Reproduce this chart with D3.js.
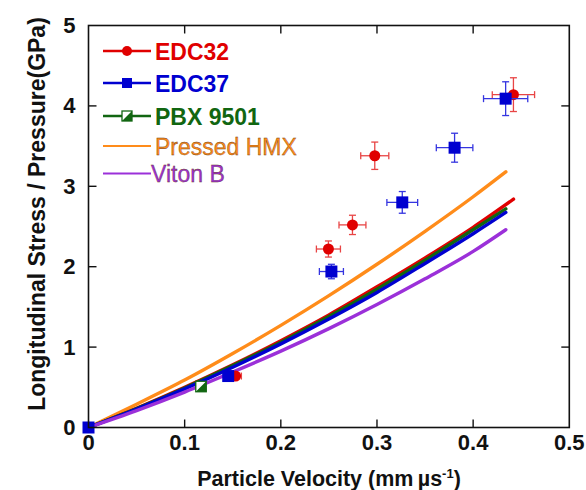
<!DOCTYPE html>
<html>
<head>
<meta charset="utf-8">
<script src="https://cdn.jsdelivr.net/npm/d3@7"></script>
<style>
body { margin: 0; background: #fff; }
svg text { font-family: "Liberation Sans", Arial, sans-serif; }
</style>
</head>
<body>
<div id="chart"></div>
<script>
const W = 586, H = 490;
const margin = {left: 88.5, right: 16.7, top: 25.5, bottom: 62.5};

// Hugoniot curves: [particle velocity, pressure]
var pressedHMX = [[0,0],[0.05,0.29],[0.1,0.59],[0.15,0.92],[0.2,1.27],[0.25,1.64],[0.3,2.03],[0.35,2.44],[0.4,2.87],[0.434,3.18]]
var edc32Curve = [[0,0],[0.05,0.24],[0.1,0.50],[0.15,0.78],[0.2,1.08],[0.25,1.40],[0.3,1.75],[0.35,2.11],[0.4,2.49],[0.442,2.84]]
var pbxCurve   = [[0,0],[0.05,0.235],[0.1,0.49],[0.15,0.77],[0.2,1.06],[0.25,1.38],[0.3,1.72],[0.35,2.08],[0.4,2.46],[0.434,2.72]]
var edc37Curve = [[0,0],[0.05,0.23],[0.1,0.48],[0.15,0.75],[0.2,1.04],[0.25,1.35],[0.3,1.68],[0.35,2.04],[0.4,2.41],[0.434,2.675]]
var vitonB     = [[0,0],[0.05,0.21],[0.1,0.44],[0.15,0.69],[0.2,0.95],[0.25,1.23],[0.3,1.53],[0.35,1.85],[0.4,2.19],[0.434,2.46]]

// experimental points: u, p, error in u, error in p
var edc32Pts = [
    {u: 0, p: 0, du: 0, dp: 0},
    {u: 0.153, p: 0.64, du: 0.006, dp: 0.03},
    {u: 0.2495, p: 2.22, du: 0.0125, dp: 0.10},
    {u: 0.2745, p: 2.52, du: 0.014, dp: 0.12},
    {u: 0.2977, p: 3.38, du: 0.0146, dp: 0.17},
    {u: 0.4419, p: 4.14, du: 0.022, dp: 0.21}
]
var edc37Pts = [
    {u: 0, p: 0, du: 0, dp: 0},
    {u: 0.1453, p: 0.64, du: 0, dp: 0},
    {u: 0.2526, p: 1.94, du: 0.0125, dp: 0.09},
    {u: 0.3263, p: 2.80, du: 0.016, dp: 0.135},
    {u: 0.3807, p: 3.48, du: 0.019, dp: 0.18},
    {u: 0.4338, p: 4.09, du: 0.023, dp: 0.21}
]
var pbxPts = [{u: 0.117, p: 0.51}]

var xTicks = [0, 0.1, 0.2, 0.3, 0.4, 0.5]
var yTicks = [0, 1, 2, 3, 4, 5]

var legendNames = ["EDC32", "EDC37", "PBX 9501", "Pressed HMX", "Viton B"]

const colRed = "#e00000", colBlue = "#0000d0", colGreen = "#116611",
      colOrange = "#ff8c1a", colPurple = "#9b30d9";

var svg = d3.select("#chart").append("svg")
    .attr("width", W).attr("height", H);

var x = d3.scaleLinear().domain([0, 0.5]).range([margin.left, W - margin.right]);
var y = d3.scaleLinear().domain([0, 5]).range([H - margin.bottom, margin.top]);

// curves
var line = d3.line().x(d => x(d[0])).y(d => y(d[1])).curve(d3.curveMonotoneX);
[[pressedHMX, colOrange], [edc32Curve, colRed], [pbxCurve, colGreen], [edc37Curve, colBlue], [vitonB, colPurple]]
    .forEach(c => {
        svg.append("path").datum(c[0])
            .attr("d", line)
            .attr("fill", "none")
            .attr("stroke", c[1])
            .attr("stroke-width", 3.4)
            .attr("stroke-linecap", "round");
    });

// error bars
function errorBars(pts, color) {
    var g = svg.append("g").attr("stroke", color).attr("stroke-width", 1.3).attr("fill", "none");
    pts.filter(d => d.du > 0).forEach(d => {
        var cy = y(d.p);
        var x0 = x(d.u - d.du), x1 = x(d.u + d.du);
        g.append("line").attr("x1", x0).attr("x2", x1).attr("y1", cy).attr("y2", cy);
        g.append("line").attr("x1", x0).attr("x2", x0).attr("y1", cy - 3.5).attr("y2", cy + 3.5);
        g.append("line").attr("x1", x1).attr("x2", x1).attr("y1", cy - 3.5).attr("y2", cy + 3.5);
    });
    pts.filter(d => d.dp > 0).forEach(d => {
        var cx = x(d.u);
        var y0 = y(d.p - d.dp), y1 = y(d.p + d.dp);
        g.append("line").attr("x1", cx).attr("x2", cx).attr("y1", y0).attr("y2", y1);
        g.append("line").attr("x1", cx - 3.5).attr("x2", cx + 3.5).attr("y1", y0).attr("y2", y0);
        g.append("line").attr("x1", cx - 3.5).attr("x2", cx + 3.5).attr("y1", y1).attr("y2", y1);
    });
}

function circleMark(g, cx, cy, r) {
    g.append("circle").attr("cx", cx).attr("cy", cy).attr("r", r).attr("fill", colRed);
}
function squareMark(g, cx, cy, s) {
    g.append("rect").attr("x", cx - s / 2).attr("y", cy - s / 2)
        .attr("width", s).attr("height", s).attr("fill", colBlue);
}
function halfMark(g, cx, cy, s) {
    var h = s / 2;
    g.append("rect").attr("x", cx - h).attr("y", cy - h).attr("width", s).attr("height", s)
        .attr("fill", "#fff").attr("stroke", colGreen).attr("stroke-width", 1.3);
    g.append("path")
        .attr("d", "M" + (cx - h) + "," + (cy + h) + "L" + (cx + h) + "," + (cy - h) + "L" + (cx + h) + "," + (cy + h) + "Z")
        .attr("fill", colGreen);
}

errorBars(edc32Pts, "#e84545");
var mk = svg.append("g");
edc32Pts.forEach(d => circleMark(mk, x(d.u), y(d.p), 5.5));
errorBars(edc37Pts, "#3535e0");
var mk2 = svg.append("g");
edc37Pts.forEach(d => squareMark(mk2, x(d.u), y(d.p), 12));
var mk3 = svg.append("g");
pbxPts.forEach(d => halfMark(mk3, x(d.u), y(d.p), 10.5));

// frame and ticks
svg.append("rect")
    .attr("x", x(0)).attr("y", y(5))
    .attr("width", x(0.5) - x(0)).attr("height", y(0) - y(5))
    .attr("fill", "none").attr("stroke", "#111").attr("stroke-width", 1.6);

var tk = svg.append("g").attr("stroke", "#111").attr("stroke-width", 1.4);
xTicks.slice(1, -1).forEach(t => {
    tk.append("line").attr("x1", x(t)).attr("x2", x(t)).attr("y1", y(0)).attr("y2", y(0) - 8);
    tk.append("line").attr("x1", x(t)).attr("x2", x(t)).attr("y1", y(5)).attr("y2", y(5) + 8);
});
yTicks.slice(1, -1).forEach(t => {
    tk.append("line").attr("x1", x(0)).attr("x2", x(0) + 8).attr("y1", y(t)).attr("y2", y(t));
    tk.append("line").attr("x1", x(0.5)).attr("x2", x(0.5) - 8).attr("y1", y(t)).attr("y2", y(t));
});

svg.append("g").selectAll("text").data(xTicks).enter().append("text")
    .attr("x", d => x(d)).attr("y", y(0) + 22)
    .attr("text-anchor", "middle")
    .style("font-size", "22px").style("font-weight", "bold").attr("fill", "#111")
    .text(d => d3.format("")(d));

svg.append("g").selectAll("text").data(yTicks).enter().append("text")
    .attr("x", x(0) - 13).attr("y", d => y(d) + 7.5)
    .attr("text-anchor", "end")
    .style("font-size", "22px").style("font-weight", "bold").attr("fill", "#111")
    .text(d => d);

// axis titles
var xt = svg.append("text")
    .attr("x", 329).attr("y", 486)
    .attr("text-anchor", "middle")
    .style("font-size", "21.5px").style("font-weight", "bold").attr("fill", "#111");
xt.append("tspan").text("Particle Velocity (mm\u2009\u00b5s");
xt.append("tspan").attr("dy", -8).style("font-size", "13px").text("-1");
xt.append("tspan").attr("dy", 8).text(")");

svg.append("text")
    .attr("transform", "translate(45," + 214 + ") rotate(-90)")
    .attr("text-anchor", "middle")
    .style("font-size", "23px").style("font-weight", "bold").attr("fill", "#111")
    .text("Longitudinal Stress / Pressure(GPa)");

// legend
var legRows = [
    {y: 51, color: colRed, bold: true, mark: "circle"},
    {y: 83, color: colBlue, bold: true, mark: "square"},
    {y: 116, color: colGreen, bold: true, mark: "half"},
    {y: 146, color: colOrange, bold: false, mark: null},
    {y: 173.5, color: colPurple, bold: false, mark: null}
]
var lg = svg.append("g");
legRows.forEach((r, i) => {
    lg.append("line").attr("x1", 103).attr("x2", 151).attr("y1", r.y).attr("y2", r.y)
        .attr("stroke", r.color).attr("stroke-width", i < 3 ? 2.6 : 2);
    if (r.mark === "circle") circleMark(lg, 127, r.y, 5);
    if (r.mark === "square") squareMark(lg, 127, r.y, 10);
    if (r.mark === "half") halfMark(lg, 127, r.y, 10);
    lg.append("text")
        .attr("x", i == 4 ? 151 : 155).attr("y", r.y + 8.5)
        .style("font-size", "23px")
        .style("font-weight", r.bold ? "bold" : "normal")
        .attr("fill", r.color)
        .attr("stroke", r.bold ? "none" : "#6a3a10")
        .attr("stroke-width", r.bold ? 0 : 0.35)
        .text(legendNames[i]);
});
</script>
</body>
</html>
